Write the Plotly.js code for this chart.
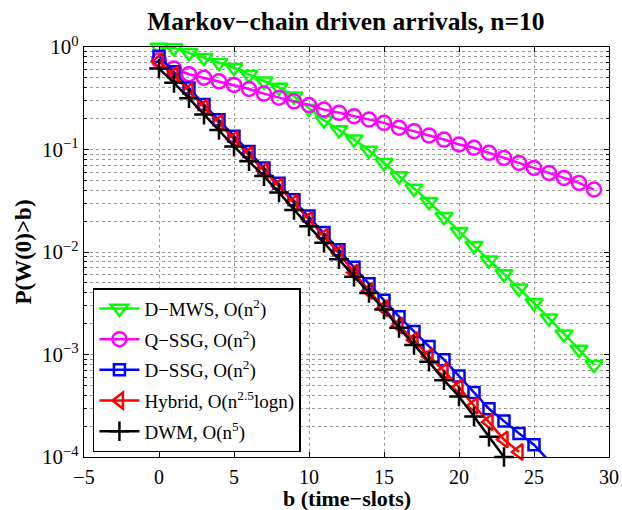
<!DOCTYPE html>
<html>
<head>
<meta charset="utf-8">
<script src="https://cdn.plot.ly/plotly-3.0.1.min.js"></script>
<style>html,body{margin:0;padding:0;background:#fff;}#chart{width:622px;height:510px;}</style>
</head>
<body>
<div id="chart"></div>
<script>
// ---- data ----
var bMWS = [0,1,2,3,4,5,6,7,8,9,10,11,12,13,14,15,16,17,18,19,20,21,22,23,24,25,26,27,28,29];
var dMWS = [0.99,0.98,0.877,0.785,0.702,0.627,0.537,0.462,0.403,0.331,0.251,0.193,0.155,0.126,0.0977,0.0741,0.0550,0.0417,0.0309,0.0221,0.0158,0.0115,0.00832,0.00610,0.00442,0.00318,0.00226,0.00158,0.00112,0.000794];
var bQSSG = [0,1,2,3,4,5,6,7,8,9,10,11,12,13,14,15,16,17,18,19,20,21,22,23,24,25,26,27,28,29];
var qSSG = [0.741,0.617,0.543,0.501,0.462,0.427,0.389,0.351,0.320,0.295,0.272,0.245,0.228,0.211,0.196,0.182,0.163,0.151,0.137,0.125,0.112,0.104,0.0927,0.0828,0.0740,0.0661,0.0590,0.0528,0.0472,0.0407];
var bDSSG = [0,1,2,3,4,5,6,7,8,9,10,11,12,13,14,15,16,17,18,19,20,21,22,23,24,25,26];
var dSSG = [0.813,0.575,0.398,0.275,0.195,0.135,0.0955,0.0661,0.0468,0.0324,0.0224,0.0155,0.0105,0.00708,0.00490,0.00339,0.00234,0.00168,0.00120,0.000891,0.000617,0.000427,0.000295,0.000224,0.000170,0.000132,0.0000912];
var bHyb = [0,1,2,3,4,5,6,7,8,9,10,11,12,13,14,15,16,17,18,19,20,21,22,23,24];
var hybrid = [0.724,0.537,0.372,0.257,0.182,0.126,0.0891,0.0617,0.0437,0.0302,0.0207,0.0141,0.00977,0.00631,0.00417,0.00282,0.00191,0.00138,0.000955,0.000692,0.000479,0.000316,0.000219,0.000148,0.000112];
var bDWM = [0,1,2,3,4,5,6,7,8,9,10,11,12,13,14,15,16,17,18,19,20,21,22,23];
var dwm = [0.617,0.447,0.316,0.219,0.155,0.107,0.0767,0.0550,0.0380,0.0257,0.0178,0.0123,0.00851,0.00575,0.00398,0.00275,0.00182,0.00124,0.000851,0.000562,0.000389,0.000248,0.000158,0.000100];

var seriesNames = ["D\u2212MWS, O(n<sup>2</sup>)", "Q\u2212SSG, O(n<sup>2</sup>)", "D\u2212SSG, O(n<sup>2</sup>)", "Hybrid, O(n<sup>2.5</sup>logn)", "DWM, O(n<sup>5</sup>)"];
var xTickVals = [-5,0,5,10,15,20,25,30];
var xTickText = ["\u22125","0","5","10","15","20","25","30"];
var yTickVals = [1e-4,1e-3,1e-2,1e-1,1];
var yTickText = ["10<sup>\u22124</sup>","10<sup>\u22123</sup>","10<sup>\u22122</sup>","10<sup>\u22121</sup>","10<sup>0</sup>"];
var titleText = "<b>Markov\u2212chain driven arrivals, n=10</b>";
var xTitle = "<b>b (time\u2212slots)</b>";
var yTitle = "<b>P(W(0)>b)</b>";

var FONT = "'Liberation Serif', 'Times New Roman', Times, serif";

function tr(x, y, name, color, symbol, size, clip, grp) {
  return {
    x: x, y: y, name: name, type: "scatter", mode: "lines+markers",
    cliponaxis: clip, legendgroup: grp,
    line: {color: color, width: 2.5},
    marker: {symbol: symbol, size: size, color: color, line: {color: color, width: 2.5}}
  };
}

var data = [
  tr(bMWS, dMWS, seriesNames[0], "#00ff00", "triangle-down-open", 15, false, "g1"),
  tr(bQSSG, qSSG, seriesNames[1], "#ff00ff", "circle-open", 14, false, "g2"),
  tr(bDSSG, dSSG, seriesNames[2], "#0000ff", "square-open", 11, true, "g3"),
  tr(bHyb, hybrid, seriesNames[3], "#ff0000", "triangle-left-open", 14, false, "g4"),
  tr(bDWM, dwm, seriesNames[4], "#000000", "cross-thin-open", 14, false, "g5")
];

var gridc = "#9a9a9a";
var layout = {
  width: 622, height: 510,
  margin: {l: 84, r: 13, t: 47, b: 53, pad: 0},
  paper_bgcolor: "#fff", plot_bgcolor: "#fff",
  font: {family: FONT, size: 21, color: "#000"},
  title: {text: titleText, font: {family: FONT, size: 25.5, color: "#000"}, x: 0.556, xanchor: "center", y: 0.958, yanchor: "middle", yref: "container"},
  showlegend: true,
  legend: {
    x: 0.017, y: 0.012, xanchor: "left", yanchor: "bottom",
    bgcolor: "#fff", bordercolor: "#000", borderwidth: 1.5,
    font: {family: FONT, size: 19, color: "#000"},
    itemwidth: 40, tracegroupgap: 3, traceorder: "grouped"
  },
  xaxis: {
    range: [-5, 30], tickmode: "array", tickvals: xTickVals, ticktext: xTickText,
    ticks: "inside", ticklen: 5, tickcolor: "#000", mirror: "allticks",
    showline: true, linecolor: "#000", linewidth: 1.2,
    showgrid: true, gridcolor: gridc, griddash: "dot", gridwidth: 1,
    zeroline: false, ticklabelstandoff: 2,
    tickfont: {family: FONT, size: 20}
  },
  yaxis: {
    type: "log", range: [-4, 0], tickmode: "array", tickvals: yTickVals, ticktext: yTickText,
    ticks: "inside", ticklen: 5, tickcolor: "#000", mirror: "allticks",
    showline: true, linecolor: "#000", linewidth: 1.2,
    showgrid: true, gridcolor: gridc, griddash: "dot", gridwidth: 1,
    zeroline: false,
    minor: {dtick: "D1", ticks: "inside", ticklen: 3, tickcolor: "#000", showgrid: true, gridcolor: gridc, griddash: "dot", gridwidth: 1},
    tickfont: {family: FONT, size: 21},
    title: {text: yTitle, font: {family: FONT, size: 23}, standoff: 4}
  },
  annotations: [{
    text: xTitle, xref: "paper", yref: "paper", x: 0.5, y: -0.1,
    xanchor: "center", yanchor: "middle", showarrow: false,
    font: {family: FONT, size: 22, color: "#000"}
  }]
};

Plotly.newPlot("chart", data, layout, {staticPlot: true, displayModeBar: false});
</script>
</body>
</html>
